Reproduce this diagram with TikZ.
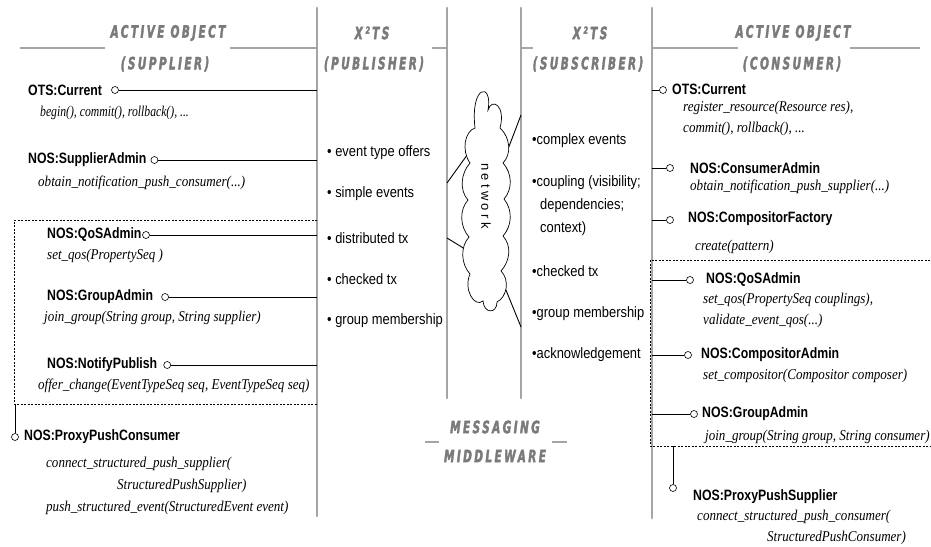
\documentclass[tikz,border=0pt]{standalone}
\usepackage{fontspec}
\setmainfont{Liberation Serif}
\newfontfamily\lblfont[FakeStretch=0.82]{Liberation Sans}
\newfontfamily\bulfont[FakeStretch=0.86]{Liberation Sans}
\newfontfamily\methfont[FakeStretch=0.87]{Liberation Serif}
\newfontfamily\narrowmeth[FakeStretch=0.78]{Liberation Serif}
\newfontfamily\hdrfont[FakeStretch=0.62,LetterSpace=14,FakeBold=2]{DejaVu Sans}
\newfontfamily\netfont[LetterSpace=25]{Liberation Sans}
\usetikzlibrary{positioning}
\definecolor{gline}{HTML}{A5A5A5}
\definecolor{htext}{HTML}{7A7A7A}
\begin{document}
\begin{tikzpicture}[x=1pt,y=-1pt,
  gl/.style={draw=gline,line width=2.8pt,line cap=round},
  hl/.style={draw=gline,line width=1.2pt},
  hdr/.style={text=htext,inner sep=0pt,font=\hdrfont\bfseries\itshape\fontsize{17}{20}\selectfont},
  lbl/.style={anchor=west,inner sep=0pt,font=\lblfont\bfseries\fontsize{15}{18}\selectfont},
  meth/.style={anchor=west,inner sep=0pt,font=\methfont\itshape\fontsize{15}{18}\selectfont},
  bul/.style={anchor=west,inner sep=0pt,font=\bulfont\fontsize{15}{18}\selectfont},
  port/.style={circle,draw,line width=0.6pt,inner sep=0pt,minimum size=7pt,fill=white},
  conn/.style={draw,line width=0.9pt},
  dbox/.style={draw,line width=0.7pt,dash pattern=on 2pt off 1.5pt}
]
\fill[white] (0,0) rectangle (931,546);
\useasboundingbox (0,0) rectangle (931,546);

% gray column lines
\coordinate (g1t) at (317,8);  \coordinate (g1b) at (317,516);
\coordinate (g2t) at (447,8);  \coordinate (g2b) at (447,398);
\coordinate (g3t) at (521,8);  \coordinate (g3b) at (521,398);
\coordinate (g4t) at (652,8);  \coordinate (g4b) at (652,518);
\draw[gl] (g1t) -- (g1b);
\draw[gl] (g2t) -- (g2b);
\draw[gl] (g3t) -- (g3b);
\draw[gl] (g4t) -- (g4b);

% header rules
\draw[hl] (20,48) -- (105,48);
\draw[hl] (230,48) -- (317,48);
\draw[hl] (432,48) -- (447,48);
\draw[hl] (521,48) -- (533,48);
\draw[hl] (652,48) -- (738,48);
\draw[hl] (850,48) -- (920,48);
\draw[hl] (425,442) -- (439,442);
\draw[hl] (552,442) -- (567,442);

% headers
\node[hdr] (h1a) at (168,33) {ACTIVE OBJECT};
\node[hdr] (h1b) at (165,64) {(SUPPLIER)};
\node[hdr] (h2a) at (372,33) {X²TS};
\node[hdr] (h2b) at (374,64) {(PUBLISHER)};
\node[hdr] (h3a) at (590,33) {X²TS};
\node[hdr] (h3b) at (588,64) {(SUBSCRIBER)};
\node[hdr] (h4a) at (793,33) {ACTIVE OBJECT};
\node[hdr] (h4b) at (792,64) {(CONSUMER)};
\node[hdr] (m1) at (495,427) {MESSAGING};
\node[hdr] (m2) at (495,456) {MIDDLEWARE};

% dashed groups
\draw[dbox] (317,220) -- (14,220) -- (14,404) -- (317,404);
\draw[dbox] (930,260) -- (650,260) -- (650,446) -- (930,446);

% left column (supplier)
\node[lbl] (otsL) at (28,90) {OTS:Current};
\node[port,right=9pt of otsL] (pOtsL) {};
\draw[conn] (pOtsL) -- (pOtsL -| g1t);
\node[meth,font=\narrowmeth\itshape\fontsize{15}{18}\selectfont] (otsLm) at (40,113) {begin(), commit(), rollback(), ...};

\node[lbl] (supA) at (28,160) {NOS:SupplierAdmin};
\node[port,right=4pt of supA] (pSupA) {};
\draw[conn] (pSupA) -- (pSupA -| g1t);
\node[meth] (supAm) at (38,183) {obtain\_notification\_push\_consumer(...)};

\node[lbl] (qosL) at (47,235) {NOS:QoSAdmin};
\node[port,right=0.5pt of qosL] (pQosL) {};
\draw[conn] (pQosL) -- (pQosL -| g1t);
\node[meth] (qosLm) at (47,256) {set\_qos(PropertySeq )};

\node[lbl] (grpL) at (47,297) {NOS:GroupAdmin};
\node[port,right=8pt of grpL] (pGrpL) {};
\draw[conn] (pGrpL) -- (pGrpL -| g1t);
\node[meth] (grpLm) at (44,318) {join\_group(String group, String supplier)};

\node[lbl] (ntf) at (47,365) {NOS:NotifyPublish};
\node[port,right=6pt of ntf] (pNtf) {};
\draw[conn] (pNtf) -- (pNtf -| g1t);
\node[meth] (ntfm) at (38,386) {offer\_change(EventTypeSeq seq, EventTypeSeq seq)};

\coordinate (ppcTop) at (15,404);
\node[port] (pPpc) at (15,437) {};
\draw[conn] (ppcTop) -- (pPpc);
\node[lbl] (ppc) at (24,437) {NOS:ProxyPushConsumer};
\node[meth] (ppcm1) at (46,464) {connect\_structured\_push\_supplier(};
\node[meth] (ppcm2) at (117,486) {StructuredPushSupplier)};
\node[meth] (ppcm3) at (46,508) {push\_structured\_event(StructuredEvent event)};

% publisher bullets
\node[bul] (pb1) at (327,153) {• event type offers};
\node[bul] (pb2) at (327,194) {• simple events};
\node[bul] (pb3) at (327,238) {• distributed tx};
\node[bul] (pb4) at (327,279) {• checked tx};
\node[bul] (pb5) at (327,321) {• group membership};

% subscriber bullets
\node[bul] (sb1) at (532,141) {•complex events};
\node[bul] (sb2) at (532,183) {•coupling (visibility;};
\node[bul] (sb2b) at (540,206) {dependencies;};
\node[bul] (sb2c) at (540,229) {context)};
\node[bul] (sb3) at (532,271) {•checked tx};
\node[bul] (sb4) at (532,314) {•group membership};
\node[bul] (sb5) at (532,355) {•acknowledgement};

% network cloud and its links
\coordinate (a1) at (447,183); \coordinate (a2) at (475,144);
\coordinate (b1) at (447,238); \coordinate (b2) at (478,257);
\coordinate (c1) at (521,115); \coordinate (c2) at (497,178);
\coordinate (d1) at (521,327); \coordinate (d2) at (497,268);
\draw[conn] (a1) -- (a2);
\draw[conn] (b1) -- (b2);
\draw[conn] (c1) -- (c2);
\draw[conn] (d1) -- (d2);
\filldraw[fill=white,line width=0.7pt]
  (475,128) .. controls (470,84) and (493,82) .. (488,110)
  .. controls (492,97) and (506,106) .. (500,128)
  .. controls (510,137) and (512,154) .. (503,163)
  .. controls (512,173) and (513,189) .. (504,199)
  .. controls (513,210) and (512,226) .. (503,236)
  .. controls (512,246) and (510,261) .. (501,271)
  .. controls (510,280) and (507,297) .. (497,302)
  .. controls (497,314) and (484,314) .. (483,301)
  .. controls (475,308) and (463,290) .. (470,274)
  .. controls (461,264) and (460,247) .. (469,237)
  .. controls (460,227) and (459,210) .. (468,200)
  .. controls (459,190) and (461,173) .. (470,163)
  .. controls (461,150) and (465,131) .. (475,128) -- cycle;
\node[rotate=-90,inner sep=0pt,font=\netfont\fontsize{13}{15}\selectfont] (net) at (486,196) {network};

% right column (consumer)
\node[port] (pOtsR) at (663,90) {};
\draw[conn] (pOtsR) -- (pOtsR -| g4t);
\node[lbl] (otsR) at (672,89) {OTS:Current};
\node[meth] (otsRm1) at (683,108) {register\_resource(Resource res),};
\node[meth] (otsRm2) at (683,129) {commit(), rollback(), ...};

\node[port] (pConA) at (670,168) {};
\draw[conn] (pConA) -- (pConA -| g4t);
\node[lbl] (conA) at (690,168) {NOS:ConsumerAdmin};
\node[meth] (conAm) at (690,187) {obtain\_notification\_push\_supplier(...)};

\node[port] (pCf) at (670,220) {};
\draw[conn] (pCf) -- (pCf -| g4t);
\node[lbl] (cf) at (688,219) {NOS:CompositorFactory};
\node[meth] (cfm) at (695,247) {create(pattern)};

\node[port] (pQosR) at (690,280) {};
\draw[conn] (pQosR) -- (pQosR -| g4t);
\node[lbl] (qosR) at (706,280) {NOS:QoSAdmin};
\node[meth] (qosRm1) at (703,300) {set\_qos(PropertySeq couplings),};
\node[meth] (qosRm2) at (703,321) {validate\_event\_qos(...)};

\node[port] (pCa) at (688,355) {};
\draw[conn] (pCa) -- (pCa -| g4t);
\node[lbl] (ca) at (701,355) {NOS:CompositorAdmin};
\node[meth] (cam) at (703,376) {set\_compositor(Compositor composer)};

\node[port] (pGrpR) at (694,414) {};
\draw[conn] (pGrpR) -- (pGrpR -| g4t);
\node[lbl] (grpR) at (702,414) {NOS:GroupAdmin};
\node[meth] (grpRm) at (705,437) {join\_group(String group, String consumer)};

\coordinate (ppsTop) at (673,446);
\node[port] (pPps) at (673,488) {};
\draw[conn] (ppsTop) -- (pPps);
\node[lbl] (pps) at (693,497) {NOS:ProxyPushSupplier};
\node[meth] (ppsm1) at (697,517) {connect\_structured\_push\_consumer(};
\node[meth] (ppsm2) at (767,538) {StructuredPushConsumer)};
\end{tikzpicture}
\end{document}
